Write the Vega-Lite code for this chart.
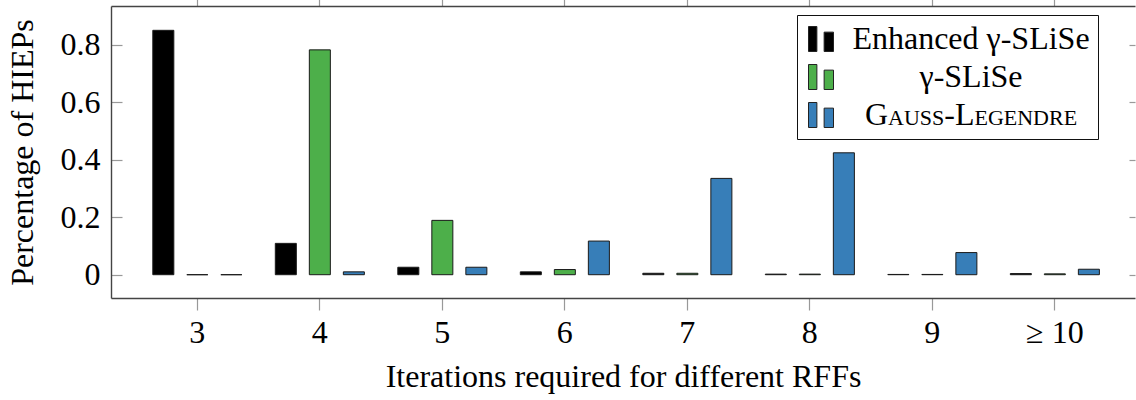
{
  "$schema": "https://vega.github.io/schema/vega-lite/v6.json",
  "autosize": "none",
  "width": 1024,
  "height": 292,
  "padding": {"left": 111, "top": 6, "right": 1, "bottom": 102},
  "background": "white",
  "config": {
    "view": {"stroke": null},
    "font": "Liberation Serif",
    "axis": {
      "labelFont": "Liberation Serif",
      "titleFont": "Liberation Serif",
      "labelFontSize": 32,
      "titleFontSize": 32,
      "titleFontWeight": "normal",
      "labelColor": "#000",
      "titleColor": "#000",
      "tickColor": "#999",
      "tickWidth": 1.2,
      "domainColor": "#444",
      "domainWidth": 1.4,
      "grid": false
    }
  },
  "data": {
    "values": [
      {"iter": "3", "method": "Enhanced γ-SLiSe", "share": 0.850},
      {"iter": "3", "method": "γ-SLiSe", "share": 0.0},
      {"iter": "3", "method": "Gauss-Legendre", "share": 0.0},
      {"iter": "4", "method": "Enhanced γ-SLiSe", "share": 0.109},
      {"iter": "4", "method": "γ-SLiSe", "share": 0.782},
      {"iter": "4", "method": "Gauss-Legendre", "share": 0.010},
      {"iter": "5", "method": "Enhanced γ-SLiSe", "share": 0.026},
      {"iter": "5", "method": "γ-SLiSe", "share": 0.189},
      {"iter": "5", "method": "Gauss-Legendre", "share": 0.026},
      {"iter": "6", "method": "Enhanced γ-SLiSe", "share": 0.010},
      {"iter": "6", "method": "γ-SLiSe", "share": 0.018},
      {"iter": "6", "method": "Gauss-Legendre", "share": 0.117},
      {"iter": "7", "method": "Enhanced γ-SLiSe", "share": 0.005},
      {"iter": "7", "method": "γ-SLiSe", "share": 0.005},
      {"iter": "7", "method": "Gauss-Legendre", "share": 0.335},
      {"iter": "8", "method": "Enhanced γ-SLiSe", "share": 0.002},
      {"iter": "8", "method": "γ-SLiSe", "share": 0.002},
      {"iter": "8", "method": "Gauss-Legendre", "share": 0.424},
      {"iter": "9", "method": "Enhanced γ-SLiSe", "share": 0.001},
      {"iter": "9", "method": "γ-SLiSe", "share": 0.001},
      {"iter": "9", "method": "Gauss-Legendre", "share": 0.077},
      {"iter": "≥ 10", "method": "Enhanced γ-SLiSe", "share": 0.004},
      {"iter": "≥ 10", "method": "γ-SLiSe", "share": 0.003},
      {"iter": "≥ 10", "method": "Gauss-Legendre", "share": 0.019}
    ]
  },
  "resolve": {"axis": {"x": "independent", "y": "independent"}},
  "layer": [
    {
      "mark": {"type": "bar", "stroke": "#1a1a1a", "strokeWidth": 1},
      "encoding": {
        "x": {
          "field": "iter",
          "type": "nominal",
          "sort": ["3", "4", "5", "6", "7", "8", "9", "≥ 10"],
          "scale": {"paddingInner": 0.273, "paddingOuter": 0.316, "align": 0.54},
          "axis": {
            "orient": "bottom",
            "title": "Iterations required for different RFFs",
            "labelAngle": 0,
            "tickSize": 12,
            "labelPadding": 7,
            "titlePadding": 13,
            "domain": true
          }
        },
        "xOffset": {
          "field": "method",
          "type": "nominal",
          "sort": ["Enhanced γ-SLiSe", "γ-SLiSe", "Gauss-Legendre"],
          "scale": {"paddingInner": 0.382, "paddingOuter": 0}
        },
        "y": {
          "field": "share",
          "type": "quantitative",
          "scale": {"domain": [-0.081, 0.9346], "nice": false, "zero": false},
          "axis": {
            "orient": "left",
            "title": "Percentage of HIEPs",
            "values": [0, 0.2, 0.4, 0.6, 0.8],
            "format": ".1~f",
            "tickSize": -11,
            "labelPadding": 22,
            "titlePadding": 21,
            "domain": true
          }
        },
        "y2": {"datum": 0},
        "color": {
          "field": "method",
          "type": "nominal",
          "sort": ["Enhanced γ-SLiSe", "γ-SLiSe", "Gauss-Legendre"],
          "scale": {
            "domain": ["Enhanced γ-SLiSe", "γ-SLiSe", "Gauss-Legendre"],
            "range": ["#000000", "#4daf4a", "#377eb8"]
          },
          "legend": {
            "title": null,
            "orient": "none",
            "legendX": 686,
            "legendY": 9,
            "symbolType": "M-1,-1H-0.33V1H-1Z M0.25,-0.55H1V1H0.25Z",
            "symbolSize": 625,
            "symbolStrokeColor": "#222",
            "symbolStrokeWidth": 1,
            "labelFont": "Liberation Serif",
            "labelFontSize": 32,
            "labelColor": "#000",
            "labelAlign": "center",
            "labelOffset": 134,
            "labelLimit": 400,
            "rowPadding": 6,
            "padding": 8,
            "strokeColor": "#111",
            "fillColor": "white",
            "encode": {
              "labels": {
                "update": {
                  "fontVariant": {"signal": "datum.label === 'Gauss-Legendre' ? 'small-caps' : 'normal'"}
                }
              }
            }
          }
        }
      }
    },
    {
      "mark": {"type": "bar", "opacity": 0},
      "encoding": {
        "x": {
          "field": "iter",
          "type": "nominal",
          "sort": ["3", "4", "5", "6", "7", "8", "9", "≥ 10"],
          "axis": {
            "orient": "top",
            "title": null,
            "labels": false,
            "tickSize": 12,
            "domain": true
          }
        },
        "y": {
          "field": "share",
          "type": "quantitative",
          "axis": {
            "orient": "right",
            "title": null,
            "labels": false,
            "values": [0, 0.2, 0.4, 0.6, 0.8],
            "tickSize": -6,
            "domain": false
          }
        },
        "y2": {"datum": 0}
      }
    }
  ]
}
